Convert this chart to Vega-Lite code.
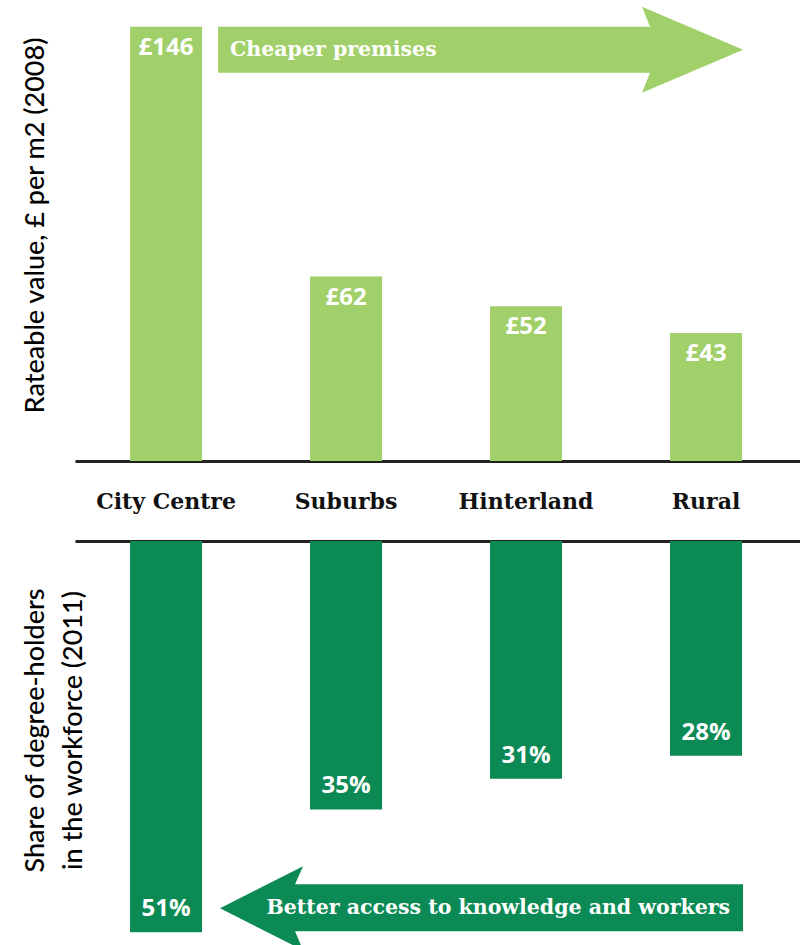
{
  "$schema": "https://vega.github.io/schema/vega-lite/v6.json",
  "padding": {"left": 21, "top": 0, "right": 0, "bottom": 0},
  "background": "white",
  "config": {"view": {"stroke": null}, "concat": {"spacing": 29}},
  "datasets": {
    "rates": [
      {"area": "City Centre", "value": 146, "label": "£146"},
      {"area": "Suburbs", "value": 62, "label": "£62"},
      {"area": "Hinterland", "value": 52, "label": "£52"},
      {"area": "Rural", "value": 43, "label": "£43"}
    ],
    "degrees": [
      {"area": "City Centre", "share": 51, "label": "51%"},
      {"area": "Suburbs", "share": 35, "label": "35%"},
      {"area": "Hinterland", "share": 31, "label": "31%"},
      {"area": "Rural", "share": 28, "label": "28%"}
    ]
  },
  "resolve": {"scale": {"x": "independent", "y": "independent"}},
  "vconcat": [
    {
      "width": 725,
      "height": 461,
      "data": {"name": "rates"},
      "encoding": {
        "x": {
          "field": "area", "type": "nominal", "sort": null,
          "scale": {"paddingInner": 0.6, "paddingOuter": 0.314, "align": 0.487},
          "axis": {
            "orient": "bottom", "title": null, "labelAngle": 0,
            "domain": true, "domainColor": "#222222", "domainWidth": 3,
            "ticks": false, "tickSize": 0, "grid": false,
            "labelFont": "DejaVu Serif", "labelFontWeight": "bold", "labelFontSize": 22,
            "labelColor": "#111111", "labelBaseline": "middle", "labelPadding": 40
          }
        },
        "y": {
          "field": "value", "type": "quantitative",
          "scale": {"domain": [0, 155], "nice": false},
          "axis": {
            "title": "Rateable value, £ per m2 (2008)",
            "labels": false, "ticks": false, "domain": false, "grid": false,
            "titleFont": "Lato", "titleFontSize": 27, "titleFontWeight": 500, "titleColor": "#000000",
            "titleAngle": -90, "titleAlign": "center", "titleBaseline": "alphabetic",
            "titleX": -32, "titleY": 225
          }
        }
      },
      "layer": [
        {"mark": {"type": "bar", "color": "#a1cf69"}},
        {
          "mark": {"type": "text", "dy": 21, "baseline": "middle", "align": "center", "font": "Open Sans", "fontWeight": "bold", "fontSize": 24, "color": "white"},
          "encoding": {"text": {"field": "label"}}
        },
        {
          "transform": [{"filter": "datum.area === 'City Centre'"}],
          "mark": {"type": "point", "shape": "M52,0 L484,0 L476,-20 L577,23 L476,66 L484,46 L52,46 Z", "size": 4, "filled": true, "opacity": 1, "color": "#a1cf69", "strokeWidth": 0}
        },
        {
          "transform": [{"filter": "datum.area === 'City Centre'"}],
          "mark": {"type": "text", "dx": 64, "dy": 23, "align": "left", "baseline": "middle", "font": "DejaVu Serif", "fontWeight": "bold", "fontSize": 20.5, "color": "white"},
          "encoding": {"text": {"value": "Cheaper premises"}}
        }
      ]
    },
    {
      "width": 725,
      "height": 405,
      "data": {"name": "degrees"},
      "encoding": {
        "x": {
          "field": "area", "type": "nominal", "sort": null,
          "scale": {"paddingInner": 0.6, "paddingOuter": 0.314, "align": 0.487},
          "axis": {
            "orient": "top", "title": null, "labels": false,
            "domain": true, "domainColor": "#222222", "domainWidth": 3,
            "ticks": false, "tickSize": 0, "grid": false
          }
        },
        "y": {
          "field": "share", "type": "quantitative",
          "scale": {"domain": [0, 52.8], "nice": false, "reverse": true},
          "axis": {
            "title": ["Share of degree-holders", "in the workforce (2011)"],
            "labels": false, "ticks": false, "domain": false, "grid": false,
            "titleFont": "Lato", "titleFontSize": 27, "titleFontWeight": 500, "titleColor": "#000000",
            "titleAngle": -90, "titleAlign": "center", "titleBaseline": "alphabetic", "titleLineHeight": 38,
            "titleX": -32, "titleY": 189
          }
        }
      },
      "layer": [
        {"mark": {"type": "bar", "color": "#0b8a55"}},
        {
          "mark": {"type": "text", "dy": -23, "baseline": "middle", "align": "center", "font": "Open Sans", "fontWeight": "bold", "fontSize": 24, "color": "white"},
          "encoding": {"text": {"field": "label"}}
        },
        {
          "transform": [{"filter": "datum.area === 'City Centre'"}],
          "mark": {"type": "point", "shape": "M577,-48 L129,-48 L137,-66 L54,-24 L137,18 L129,-1 L577,-1 Z", "size": 4, "filled": true, "opacity": 1, "color": "#0b8a55", "strokeWidth": 0}
        },
        {
          "transform": [{"filter": "datum.area === 'City Centre'"}],
          "mark": {"type": "text", "dx": 564, "dy": -24, "align": "right", "baseline": "middle", "font": "DejaVu Serif", "fontWeight": "bold", "fontSize": 20.5, "color": "white"},
          "encoding": {"text": {"value": "Better access to knowledge and workers"}}
        }
      ]
    }
  ]
}
